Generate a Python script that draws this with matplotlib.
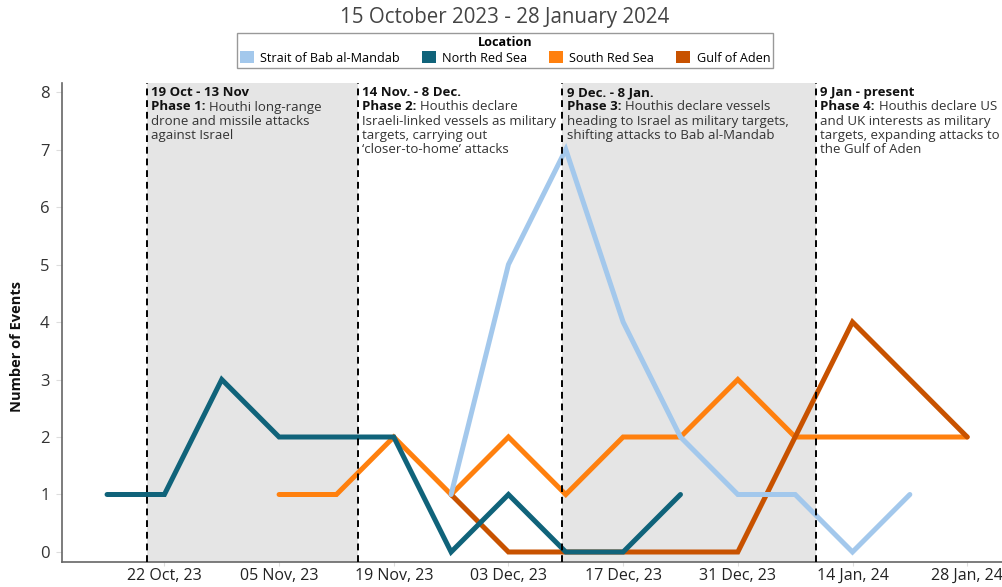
import matplotlib
matplotlib.use("Agg")
import matplotlib.pyplot as plt
import matplotlib.dates as mdates
from matplotlib.patches import Patch
import numpy as np
import pandas as pd

plt.rcParams['font.family'] = ['Open Sans', 'DejaVu Sans']

nan = np.nan
weeks = pd.date_range("2023-10-15", "2024-01-28", freq="7D")

bab_al_mandab = [nan, nan, nan, nan, nan, nan, 1, 5, 7, 4, 2, 1, 1, 0, 1, nan]
north_red_sea = [1, 1, 3, 2, 2, 2, 0, 1, 0, 0, 1, nan, nan, nan, nan, nan]
south_red_sea = [nan, nan, nan, 1, 1, 2, 1, 2, 1, 2, 2, 3, 2, 2, 2, 2]
gulf_of_aden = [nan, nan, nan, nan, nan, nan, 1, 0, 0, 0, 0, 0, 2, 4, 3, 2]

series_names = ["Strait of Bab al-Mandab", "North Red Sea", "South Red Sea", "Gulf of Aden"]
series_vals = [bab_al_mandab, north_red_sea, south_red_sea, gulf_of_aden]
colors = ["#a3c8ec", "#10637a", "#ff800e", "#c85200"]
zorders = [6, 5, 3, 4]

# where the phase boundaries sit on the chart
phase_starts = pd.to_datetime(["2023-10-19 20:00", "2023-11-14 14:00",
                               "2023-12-09 14:00", "2024-01-09 14:00"])
phase_heads = ["19 Oct - 13 Nov", "14 Nov. - 8 Dec.", "9 Dec. - 8 Jan.", "9 Jan - present"]
phase_labels = ["Phase 1:", "Phase 2:", "Phase 3:", "Phase 4:"]
phase_text = [
    ["Houthi long-range", "drone and missile attacks", "against Israel"],
    ["Houthis declare", "Israeli-linked vessels as military", "targets, carrying out",
     "\u2018closer-to-home\u2019 attacks"],
    ["Houthis declare vessels", "heading to Israel as military targets,",
     "shifting attacks to Bab al-Mandab"],
    ["Houthis declare US", "and UK interests as military", "targets, expanding attacks to",
     "the Gulf of Aden"],
]

xticks = pd.date_range("2023-10-22", "2024-01-28", freq="14D")

fig = plt.figure(figsize=(10.02, 5.87), dpi=100)
ax = fig.add_axes([62 / 1002, 25 / 587, 940 / 1002, 479 / 587])

ax.set_xlim(pd.Timestamp("2023-10-09 12:00"), pd.Timestamp("2024-02-01 06:00"))
ax.set_ylim(-0.174, 8.157)

# shaded phases 1 and 3
ax.axvspan(phase_starts[0], phase_starts[1], color="#e5e5e5", zorder=1, lw=0)
ax.axvspan(phase_starts[2], phase_starts[3], color="#e5e5e5", zorder=1, lw=0)

for name, vals, c, z in zip(series_names, series_vals, colors, zorders):
    ax.plot(weeks, vals, color=c, lw=3.6, zorder=z, solid_capstyle="round",
            solid_joinstyle="miter")

for d in phase_starts:
    ax.axvline(d, color="black", lw=1.4, ls=(0, (3.5, 2.5)), zorder=8)

fs = 9.5
tr = ax.get_xaxis_transform()
for d, head, lab, body in zip(phase_starts, phase_heads, phase_labels, phase_text):
    xd = mdates.date2num(d)
    ax.annotate(head, xy=(xd, 1.0), xycoords=tr, xytext=(3, -2.5), textcoords="offset points",
                fontsize=fs, fontweight="bold", color="#111111", va="top", ha="left", zorder=9)
    b = ax.annotate(lab, xy=(xd, 1.0), xycoords=tr, xytext=(3, -12.6), textcoords="offset points",
                    fontsize=fs, fontweight="bold", color="#111111", va="top", ha="left", zorder=9)
    ax.annotate(body[0], xy=(1, 0), xycoords=b, xytext=(2.8, 0), textcoords="offset points",
                fontsize=fs, color="#333333", va="bottom", ha="left", zorder=9)
    for i, line in enumerate(body[1:]):
        ax.annotate(line, xy=(xd, 1.0), xycoords=tr, xytext=(3, -22.7 - 10.1 * i),
                    textcoords="offset points", fontsize=fs, color="#333333",
                    va="top", ha="left", zorder=9)

ax.set_xticks(xticks)
ax.xaxis.set_major_formatter(mdates.DateFormatter("%d %b, %y"))
ax.set_yticks(range(0, 9))
ax.tick_params(axis="x", labelsize=11.5, colors="#dddddd", labelcolor="#222222", length=3, pad=1.5)
ax.tick_params(axis="y", labelsize=12, colors="#dddddd", labelcolor="#333333", length=4, pad=5)

for s in ["top", "right"]:
    ax.spines[s].set_visible(False)
for s in ["left", "bottom"]:
    ax.spines[s].set_color("#666666")
    ax.spines[s].set_linewidth(1.2)

fig.text(17 / 1002, 1 - 347 / 587, "Number of Events", rotation=90, ha="center", va="center",
         fontsize=10.5, fontweight="bold", color="#111111")

fig.text(0.504, 0.971, "15 October 2023 - 28 January 2024", ha="center", va="center",
         fontsize=14.8, color="#444444")

handles = [Patch(facecolor=c, edgecolor="none") for c in colors]
leg = fig.legend(handles, series_names, loc="upper center", bbox_to_anchor=(0.504, 0.950),
                 ncol=4, fontsize=9.1, title="Location", title_fontsize=9.1,
                 frameon=True, fancybox=False, edgecolor="#999999", framealpha=1,
                 handlelength=1.1, handleheight=1.1, handletextpad=0.5, columnspacing=1.75,
                 borderpad=0.25, labelspacing=0.15, borderaxespad=0.3)
leg.get_title().set_fontweight("bold")
leg.get_frame().set_linewidth(1.0)

fig.savefig("out.png", dpi=100)
